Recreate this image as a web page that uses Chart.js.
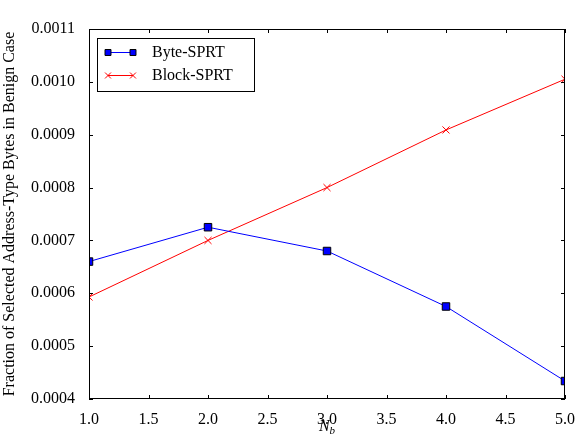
<!DOCTYPE html>
<html>
<head>
<meta charset="utf-8">
<script src="https://cdn.jsdelivr.net/npm/chart.js@4/dist/chart.umd.min.js"></script>
<style>
  html, body { margin: 0; padding: 0; background: #fff; }
  #wrap { width: 588px; height: 438px; }
</style>
</head>
<body>
<div id="wrap"><canvas id="myChart" width="588" height="438"></canvas></div>
<script>
// values
let nbValues = [1, 2, 3, 4, 5];
let byteSprt = [0.00066, 0.000725, 0.00068, 0.000575, 0.000434];
let blockSprt = [0.000593, 0.0007, 0.0008, 0.000909, 0.001005];
let seriesNames = ["Byte-SPRT", "Block-SPRT"];
let yTitle = "Fraction of Selected Address-Type Bytes in Benign Case";

let serif = "'Liberation Serif', 'DejaVu Serif', serif";

function toPoints(xs, ys) {
  return xs.map((x, i) => ({ x: x, y: ys[i] }));
}

//frame, inward ticks, x title subscript and boxed legend
let decorPlugin = {
  id: "decor",
  afterDraw(chart) {
    let ctx = chart.ctx;
    let area = chart.chartArea;
    let xs = chart.scales.x;
    let ys = chart.scales.y;
    ctx.save();
    ctx.strokeStyle = "#000";
    ctx.lineWidth = 1;
    ctx.strokeRect(Math.round(area.left) + 0.5, Math.round(area.top) + 0.5,
      Math.round(area.right - area.left) - 1, Math.round(area.bottom - area.top) - 1);

    let len = 4;
    ctx.beginPath();
    xs.ticks.forEach(t => {
      let px = Math.round(xs.getPixelForValue(t.value)) + 0.5;
      ctx.moveTo(px, area.bottom); ctx.lineTo(px, area.bottom - len);
      ctx.moveTo(px, area.top); ctx.lineTo(px, area.top + len);
    });
    ys.ticks.forEach(t => {
      let py = Math.round(ys.getPixelForValue(t.value)) + 0.5;
      ctx.moveTo(area.left, py); ctx.lineTo(area.left + len, py);
      ctx.moveTo(area.right, py); ctx.lineTo(area.right - len, py);
    });
    ctx.stroke();

    // x axis title: italic N with subscript b
    let cx = (area.left + area.right) / 2;
    ctx.fillStyle = "#000";
    ctx.textBaseline = "alphabetic";
    ctx.font = "italic 16px " + serif;
    let wN = ctx.measureText("N").width;
    ctx.font = "italic 11px " + serif;
    let wB = ctx.measureText("b").width;
    let startX = cx - (wN + wB) / 2;
    ctx.font = "italic 16px " + serif;
    ctx.textAlign = "left";
    ctx.fillText("N", startX, 431);
    ctx.font = "italic 11px " + serif;
    ctx.fillText("b", startX + wN, 434);

    // legend box
    let lx = area.left + 8, ly = area.top + 9, lw = 157, lh = 53;
    ctx.fillStyle = "#fff";
    ctx.fillRect(lx, ly, lw, lh);
    ctx.strokeStyle = "#000";
    ctx.strokeRect(lx + 0.5, ly + 0.5, lw, lh);
    chart.data.datasets.forEach((ds, i) => {
      let yy = ly + 14 + i * 23;
      let x1 = lx + 11, x2 = lx + 36;
      ctx.strokeStyle = ds.borderColor;
      ctx.lineWidth = 1;
      ctx.beginPath();
      ctx.moveTo(x1, yy + 0.5); ctx.lineTo(x2, yy + 0.5);
      ctx.stroke();
      let opts = {
        pointStyle: ds.pointStyle, radius: 4.2, rotation: 0,
        borderWidth: 1
      };
      ctx.fillStyle = ds.pointBackgroundColor;
      ctx.strokeStyle = ds.pointBorderColor;
      Chart.helpers.drawPoint(ctx, opts, x1, yy + 0.5);
      Chart.helpers.drawPoint(ctx, opts, x2, yy + 0.5);
      ctx.fillStyle = "#000";
      ctx.font = "16px " + serif;
      ctx.textAlign = "left";
      ctx.textBaseline = "middle";
      ctx.fillText(ds.label, lx + 55, yy + 1);
    });
    ctx.restore();
  }
};

let ctx = document.getElementById("myChart").getContext("2d");
let myChart = new Chart(ctx, {
  type: "line",
  data: {
    datasets: [
      {
        label: seriesNames[0],
        data: toPoints(nbValues, byteSprt),
        borderColor: "#0000ff",
        borderWidth: 1,
        pointStyle: "rect",
        pointRadius: 5.3,
        pointBackgroundColor: "#0000ff",
        pointBorderColor: "#000",
        pointBorderWidth: 1,
        fill: false,
        clip: 0,
      },
      {
        label: seriesNames[1],
        data: toPoints(nbValues, blockSprt),
        borderColor: "#ff0000",
        borderWidth: 1,
        pointStyle: "crossRot",
        pointRadius: 5,
        pointBackgroundColor: "#ff0000",
        pointBorderColor: "#ff0000",
        pointBorderWidth: 1,
        fill: false,
        clip: 0,
      },
    ],
  },
  options: {
    responsive: false,
    animation: false,
    layout: { padding: { top: 29, right: 23, left: 0, bottom: 0 } },
    plugins: {
      legend: { display: false },
      tooltip: { enabled: false },
    },
    scales: {
      x: {
        type: "linear",
        min: 1,
        max: 5,
        grid: { display: false },
        border: { display: false },
        ticks: {
          stepSize: 0.5,
          padding: 3,
          color: "#000",
          font: { family: serif, size: 16 },
          callback: v => v.toFixed(1),
        },
        afterFit: s => { s.height = 39; },
      },
      y: {
        min: 0.0004,
        max: 0.0011,
        grid: { display: false },
        border: { display: false },
        ticks: {
          stepSize: 0.0001,
          padding: 6,
          color: "#000",
          font: { family: serif, size: 16 },
          callback: v => v.toFixed(4),
        },
        title: {
          display: true,
          text: yTitle,
          color: "#000",
          font: { family: serif, size: 16 },
          padding: { top: 0, bottom: 4 },
        },
        afterFit: s => { s.width = 89; },
      },
    },
  },
  plugins: [decorPlugin],
});
</script>
</body>
</html>
